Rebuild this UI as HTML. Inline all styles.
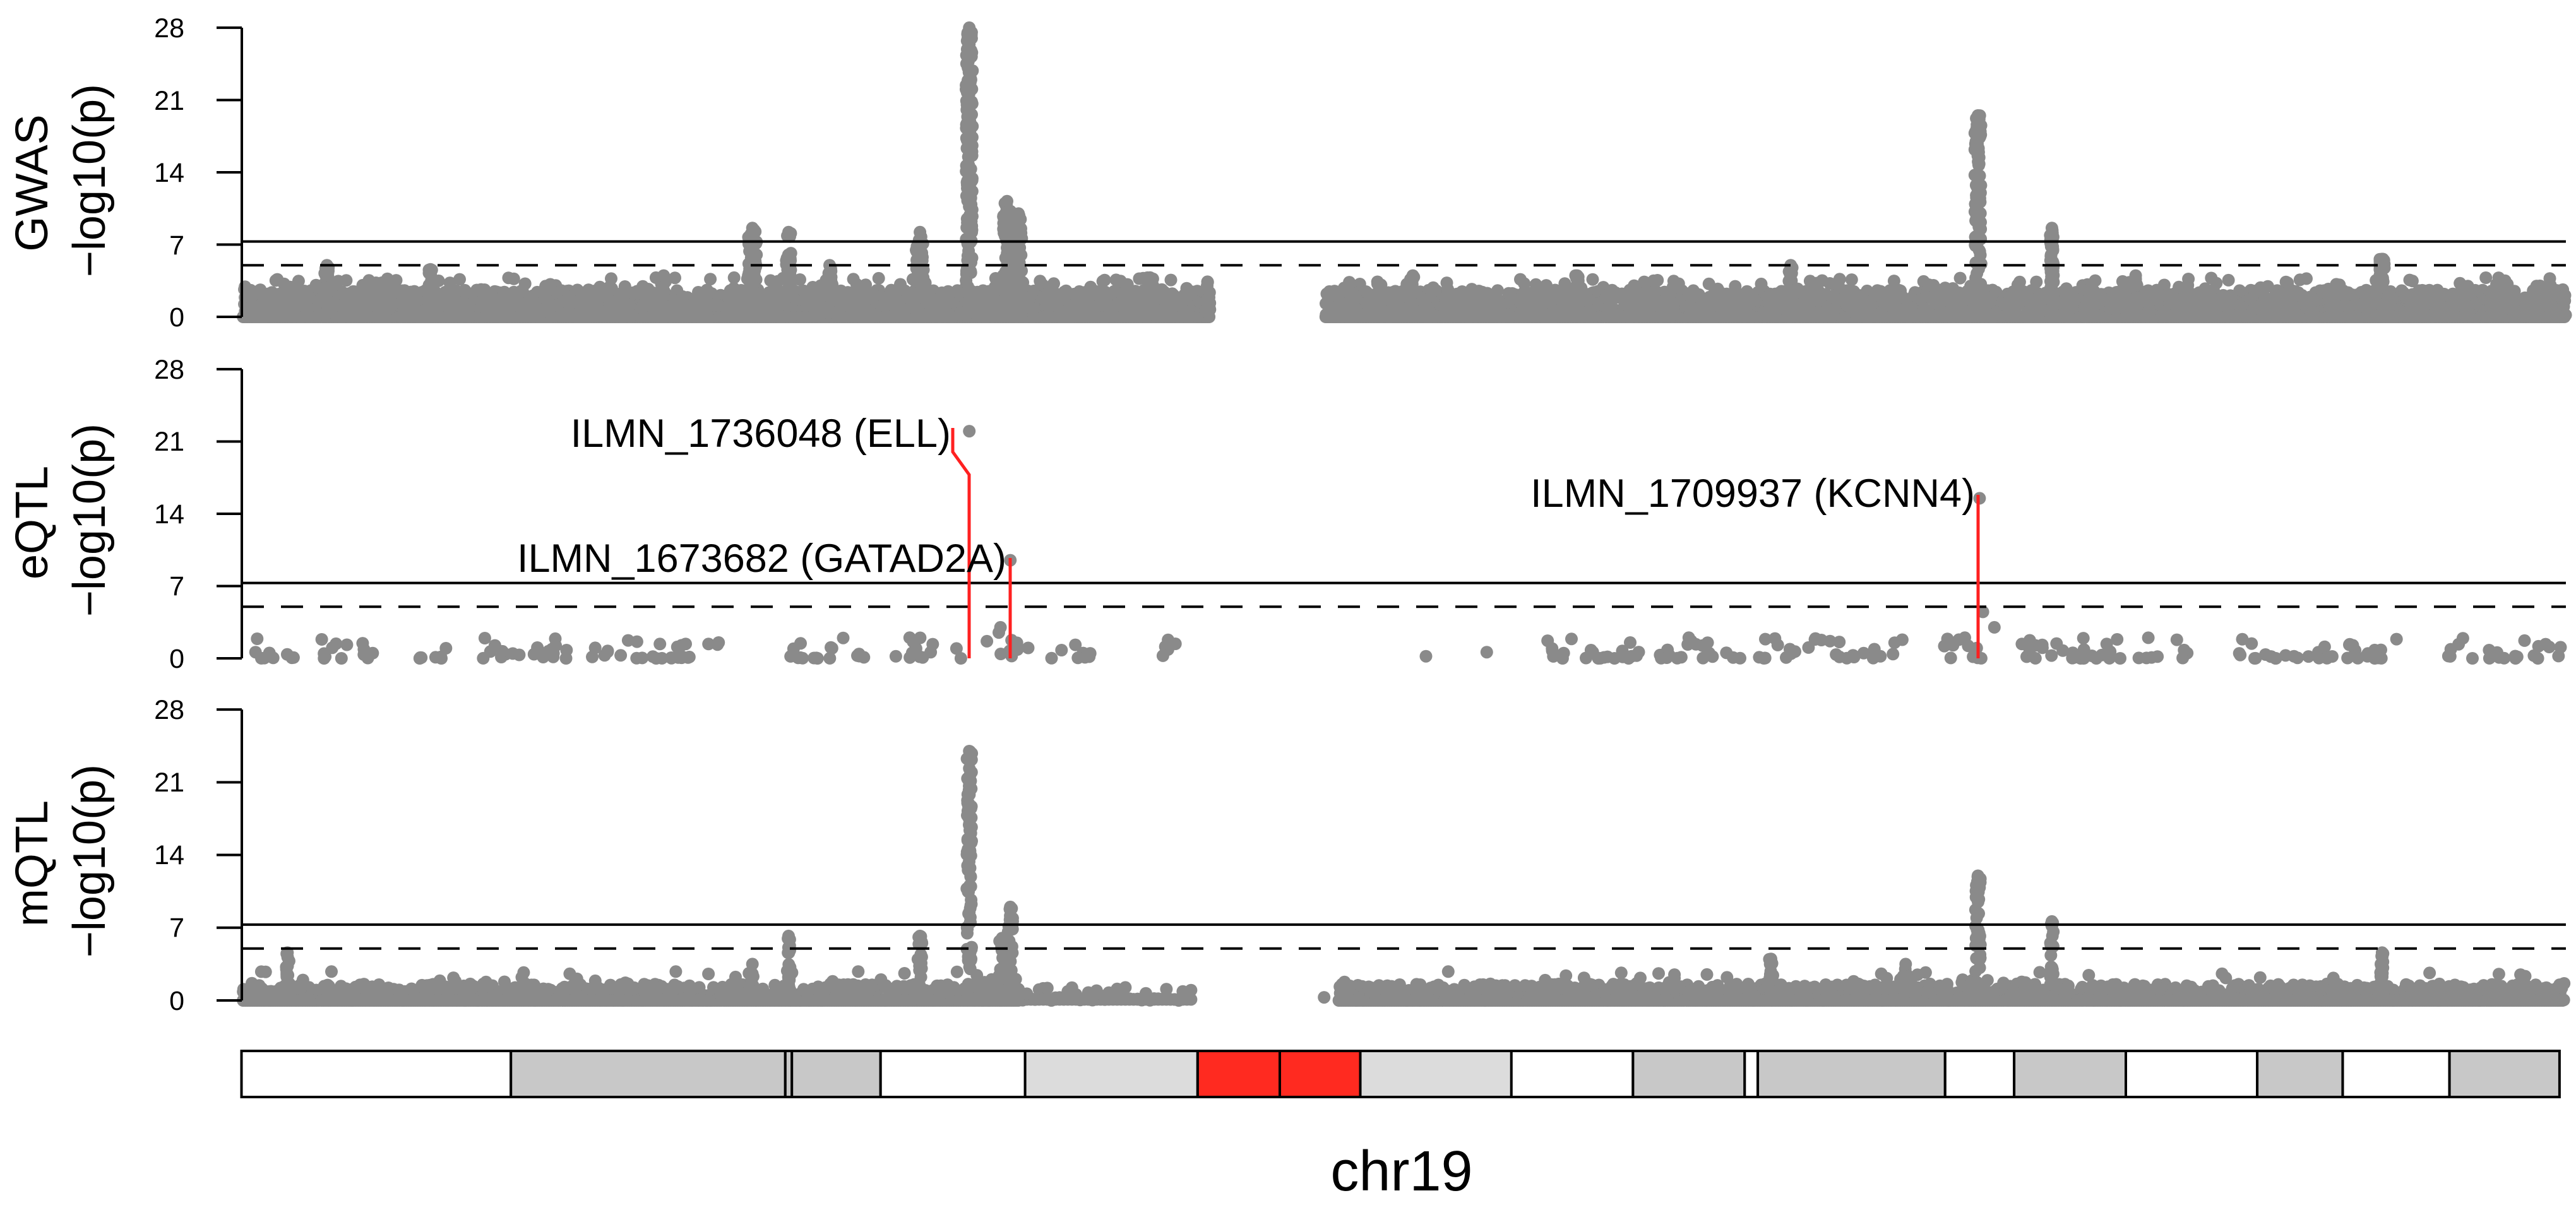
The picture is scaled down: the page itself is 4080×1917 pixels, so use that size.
<!DOCTYPE html>
<html><head><meta charset="utf-8">
<style>
html,body{margin:0;padding:0;background:#fff;width:4080px;height:1917px;overflow:hidden}
svg{display:block}
text{font-family:"Liberation Sans",Arial,sans-serif;fill:#000}
</style></head>
<body>
<svg id="s" width="4080" height="1917" viewBox="0 0 4080 1917" xmlns="http://www.w3.org/2000/svg">
<g id="pts" fill="#8a8a8a"></g>
<g id="axes" stroke="#000" stroke-width="4" fill="none"></g>
<g font-size="43" text-anchor="end">
<text x="292" y="59">28</text><text x="292" y="174">21</text><text x="292" y="288">14</text><text x="292" y="403">7</text><text x="292" y="517">0</text>
<text x="292" y="600">28</text><text x="292" y="714">21</text><text x="292" y="829">14</text><text x="292" y="943">7</text><text x="292" y="1058">0</text>
<text x="292" y="1139">28</text><text x="292" y="1254">21</text><text x="292" y="1369">14</text><text x="292" y="1484">7</text><text x="292" y="1600">0</text>
</g>
<g font-size="72" text-anchor="middle">
<text transform="translate(75,290) rotate(-90)">GWAS</text>
<text transform="translate(166,286) rotate(-90)">−log10(p)</text>
<text transform="translate(75,828) rotate(-90)">eQTL</text>
<text transform="translate(166,824) rotate(-90)">−log10(p)</text>
<text transform="translate(75,1368) rotate(-90)">mQTL</text>
<text transform="translate(166,1364) rotate(-90)">−log10(p)</text>
</g>
<g stroke="#ff2020" stroke-width="5" fill="none">
<polyline points="1509,678 1509,716 1535,752 1535,1043"/>
<polyline points="1600,884 1600,1043"/>
<polyline points="3133,784 3133,1043"/>
</g>
<g font-size="63" text-anchor="end">
<text x="1506" y="708">ILMN_1736048 (ELL)</text>
<text x="1594" y="906">ILMN_1673682 (GATAD2A)</text>
<text x="3128" y="803">ILMN_1709937 (KCNN4)</text>
</g>
<g id="chr" stroke="#000" stroke-width="4"></g>
<text x="2220" y="1886" font-size="90" text-anchor="middle">chr19</text>
</svg>
<script>
(function(){
var S=2.602;
var pts=document.getElementById('pts'),ax=document.getElementById('axes'),chr=document.getElementById('chr');
var seed=12345;function r(){seed=(seed*16807)%2147483647;return (seed-1)/2147483646;}
var Y0=[502,1043,1585],U=[16.36,16.36,16.46];
var buf=[];
function dot(p,dx,v){var x=dx*S,y=Y0[p]-v*U[p];buf.push('<circle cx="'+x.toFixed(1)+'" cy="'+y.toFixed(1)+'" r="10"/>');}
function dense(p,a,b,step,n,h,extra){for(var d=a;d<=b;d+=step){for(var k=0;k<n;k++){var v=Math.pow(r(),1.4)*h;if(r()<extra)v=h+r()*1.2;dot(p,d+r()*step,v);}dot(p,d,0);}}
dense(0,148,736,1.0,3,2.6,0.05);
dense(0,807,1561,1.0,3,2.6,0.05);
function peak(p,x,h,w,n){for(var i=0;i<n;i++){dot(p,x+(r()-0.5)*w,r()*h);}dot(p,x,h);}
var gp=[[199,5,3],[262,4.6,2],[404,4,3],[458,8.6,5],[480,8.2,3],[505,5,2],[560,8.2,5],[590,28,4],[613,11.2,5],[620,10,4],[700,3.8,4],[735,3.4,3],[860,4,3],[960,4,2],[1090,5,2],[1204,19.5,4],[1249,8.6,2],[1450,5.6,3],[1300,4,2]];
gp.forEach(function(q){peak(0,q[0],q[1],q[2],Math.round(q[1]*6));});
var ec=[[150,180],[190,230],[255,275],[285,345],[360,440],[480,530],[545,585],[600,626],[640,665],[705,720],[935,1060],[1070,1160],[1180,1210],[1230,1340],[1350,1460],[1490,1560]];
ec.forEach(function(c){var n=Math.round((c[1]-c[0])/3);for(var i=0;i<n;i++)dot(1,c[0]+r()*(c[1]-c[0]),Math.pow(r(),2.5)*2.0);});
dot(1,868,0.2);dot(1,905,0.6);
dot(1,590,22);dot(1,615,9.5);dot(1,609,3);dot(1,608,2.5);dot(1,1205,15.5);dot(1,1207,4.5);dot(1,1214,3);dot(1,1196,2);
dense(2,148,620,1.4,2,1.6,0.04);
(function(){for(var d=620;d<=727;d+=2.5){dot(2,d,Math.pow(r(),2)*1.3);dot(2,d,0.1);}})();
dense(2,815,1561,1.4,2,1.6,0.04);dot(2,806,0.3);
var mp=[[590,24,3],[615,9,3],[610,6,4],[560,6.2,3],[480,6.2,2],[1204,12,3],[1249,7.6,2],[175,4.6,2],[1450,4.6,2],[1078,4,2],[458,3.5,2],[1160,3.5,3]];
mp.forEach(function(q){peak(2,q[0],q[1],q[2],Math.round(q[1]*4));});
pts.innerHTML=buf.join('');
var a='';
for(var p=0;p<3;p++){var y0=Y0[p],u=U[p];
a+='<line x1="383" y1="'+(y0-28*u)+'" x2="383" y2="'+y0+'"/>';
for(var t=0;t<=28;t+=7){var y=y0-t*u;a+='<line x1="343" y1="'+y+'" x2="383" y2="'+y+'"/>';}
a+='<line x1="383" y1="'+(y0-7.3*u)+'" x2="4064" y2="'+(y0-7.3*u)+'"/>';
a+='<line x1="383" y1="'+(y0-5*u)+'" x2="4064" y2="'+(y0-5*u)+'" stroke-dasharray="35 27"/>';}
ax.innerHTML=a;
var b=[[147,311,'#fff'],[311,478,'#c8c8c8'],[478,482,'#c8c8c8'],[482,536,'#c8c8c8'],[536,624,'#fff'],[624,729,'#dcdcdc'],[729,779,'#ff2a20'],[779,828,'#ff2a20'],[828,920,'#dcdcdc'],[920,994,'#fff'],[994,1062,'#c8c8c8'],[1062,1070,'#fff'],[1070,1184,'#c8c8c8'],[1184,1226,'#fff'],[1226,1294,'#c8c8c8'],[1294,1374,'#fff'],[1374,1426,'#c8c8c8'],[1426,1491,'#fff'],[1491,1558,'#c8c8c8']];
var c='';b.forEach(function(q){c+='<rect x="'+(q[0]*S).toFixed(1)+'" y="1665" width="'+((q[1]-q[0])*S).toFixed(1)+'" height="73" fill="'+q[2]+'"/>';});
chr.innerHTML=c;
})();
</script>
</body></html>
